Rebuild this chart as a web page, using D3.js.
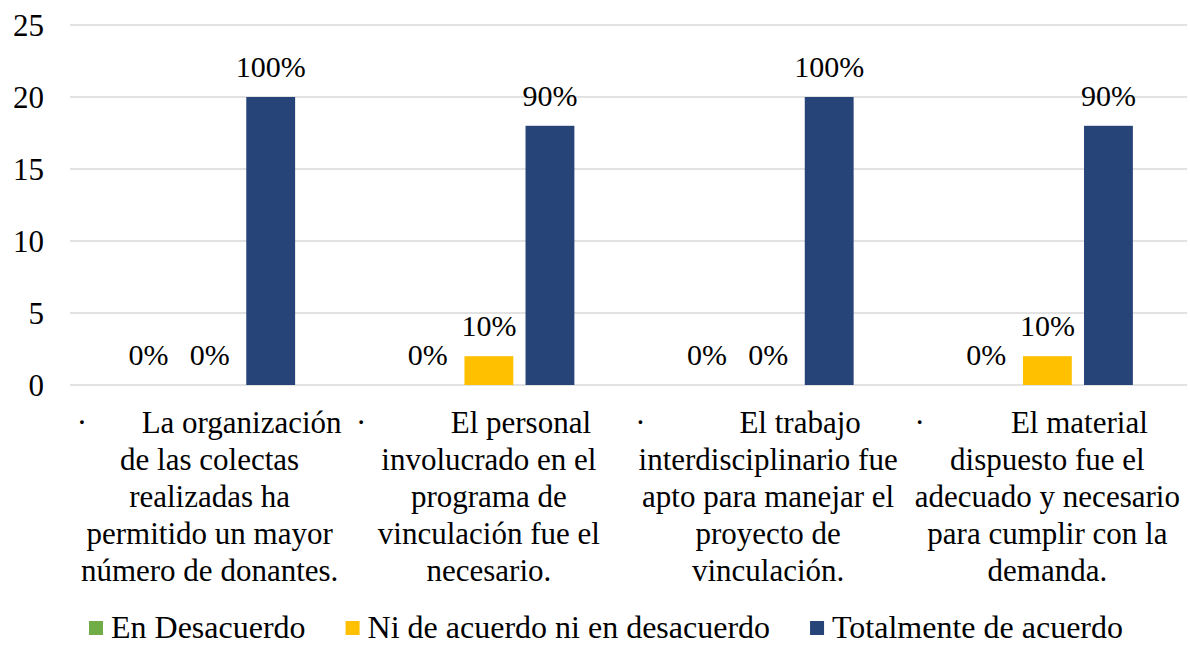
<!DOCTYPE html>
<html>
<head>
<meta charset="utf-8">
<script src="https://cdn.jsdelivr.net/npm/d3@7"></script>
<style>
  html, body { margin: 0; padding: 0; background: #ffffff; }
  svg { display: block; }
  svg text { font-family: 'Liberation Serif', 'Times New Roman', Times, 'DejaVu Serif', serif; }
</style>
</head>
<body>
<svg id="chart" width="1190" height="645"></svg>
<script>
// ---- data ----
const categoryLines = [
  ["La organización", "de las colectas", "realizadas ha", "permitido un mayor", "número de donantes."],
  ["El personal", "involucrado en el", "programa de", "vinculación fue el", "necesario."],
  ["El trabajo", "interdisciplinario fue", "apto para manejar el", "proyecto de", "vinculación."],
  ["El material", "dispuesto fue el", "adecuado y necesario", "para cumplir con la", "demanda."]
];
const categories = ["c1", "c2", "c3", "c4"];
const seriesNames = ["En Desacuerdo", "Ni de acuerdo ni en desacuerdo", "Totalmente de acuerdo"];
const enDesacuerdo = [0, 0, 0, 0];
const niDeAcuerdo = [0, 2, 0, 2];
const totalmente = [20, 18, 20, 18];
const labelsEnDesacuerdo = ["0%", "0%", "0%", "0%"];
const labelsNiDeAcuerdo = ["0%", "10%", "0%", "10%"];
const labelsTotalmente = ["100%", "90%", "100%", "90%"];
const yTicks = [0, 5, 10, 15, 20, 25];

const seriesValues = [enDesacuerdo, niDeAcuerdo, totalmente];
const seriesLabels = [labelsEnDesacuerdo, labelsNiDeAcuerdo, labelsTotalmente];
const colors = ["#70AD47", "#FFC000", "#264478"];
const FONT = "'Liberation Serif', 'Times New Roman', Times, 'DejaVu Serif', serif";

// ---- layout ----
const svg = d3.select("#chart").attr("font-family", FONT);
const plot = { left: 70, right: 1187, top: 25, bottom: 385 };

const x = d3.scaleBand().domain(categories).range([plot.left, plot.right]).padding(0);
const bw = x.bandwidth();
const groupW = 171;
const xs = d3.scaleBand().domain(seriesNames)
  .range([(bw - groupW) / 2, (bw + groupW) / 2]).paddingInner(0.2).paddingOuter(0);
const y = d3.scaleLinear().domain([0, 25]).range([plot.bottom, plot.top]);

// gridlines
svg.append("g").selectAll("line").data(yTicks).join("line")
  .attr("x1", plot.left).attr("x2", plot.right)
  .attr("y1", d => y(d)).attr("y2", d => y(d))
  .attr("stroke", "#d9d9d9").attr("stroke-width", 1.5);

// y tick labels
svg.append("g").selectAll("text").data(yTicks).join("text")
  .attr("x", 44).attr("y", d => y(d) + 11)
  .attr("text-anchor", "end")
  .attr("font-family", FONT)
  .attr("font-size", 31).attr("fill", "#000")
  .text(d => d);

// bars
const rows = [];
categories.forEach((c, ci) => {
  seriesNames.forEach((s, si) => {
    rows.push({ c, s, si, v: seriesValues[si][ci], label: seriesLabels[si][ci] });
  });
});

svg.append("g").selectAll("rect").data(rows.filter(d => d.v > 0)).join("rect")
  .attr("x", d => x(d.c) + xs(d.s))
  .attr("width", xs.bandwidth())
  .attr("y", d => y(d.v))
  .attr("height", d => y(0) - y(d.v))
  .attr("fill", d => colors[d.si]);

// value labels
svg.append("g").selectAll("text").data(rows).join("text")
  .attr("x", d => x(d.c) + xs(d.s) + xs.bandwidth() / 2)
  .attr("y", d => y(d.v) - 20)
  .attr("text-anchor", "middle")
  .attr("font-family", FONT)
  .attr("font-size", 30).attr("fill", "#000")
  .text(d => d.label);

// category labels
const lineH = 37;
const firstBase = 433;
const catG = svg.append("g").attr("font-family", FONT).attr("font-size", 31).attr("fill", "#000");
categories.forEach((c, ci) => {
  const cx = x(c) + bw / 2;
  const lines = categoryLines[ci];
  catG.append("text")
    .attr("x", cx - 133).attr("y", firstBase)
    .attr("text-anchor", "start")
    .text("·");
  catG.append("text")
    .attr("x", cx + 32).attr("y", firstBase)
    .attr("text-anchor", "middle")
    .text(lines[0]);
  lines.slice(1).forEach((ln, li) => {
    catG.append("text")
      .attr("x", cx).attr("y", firstBase + (li + 1) * lineH)
      .attr("text-anchor", "middle")
      .text(ln);
  });
});

// legend
const legendG = svg.append("g").attr("font-family", FONT);
const sq = 14, gapSq = 8, gapItem = 40;
let lx = 0;
seriesNames.forEach((name, i) => {
  const g = legendG.append("g");
  g.append("rect").attr("x", 0).attr("y", -sq / 2).attr("width", sq).attr("height", sq).attr("fill", colors[i]);
  const t = g.append("text").attr("x", sq + gapSq).attr("y", 10)
    .attr("font-size", 32).attr("fill", "#000").text(name);
  const w = sq + gapSq + t.node().getComputedTextLength();
  g.attr("transform", `translate(${lx},0)`);
  lx += w + gapItem;
});
const totalW = lx - gapItem;
legendG.attr("transform", `translate(${606 - totalW / 2},628)`);
</script>
</body>
</html>
